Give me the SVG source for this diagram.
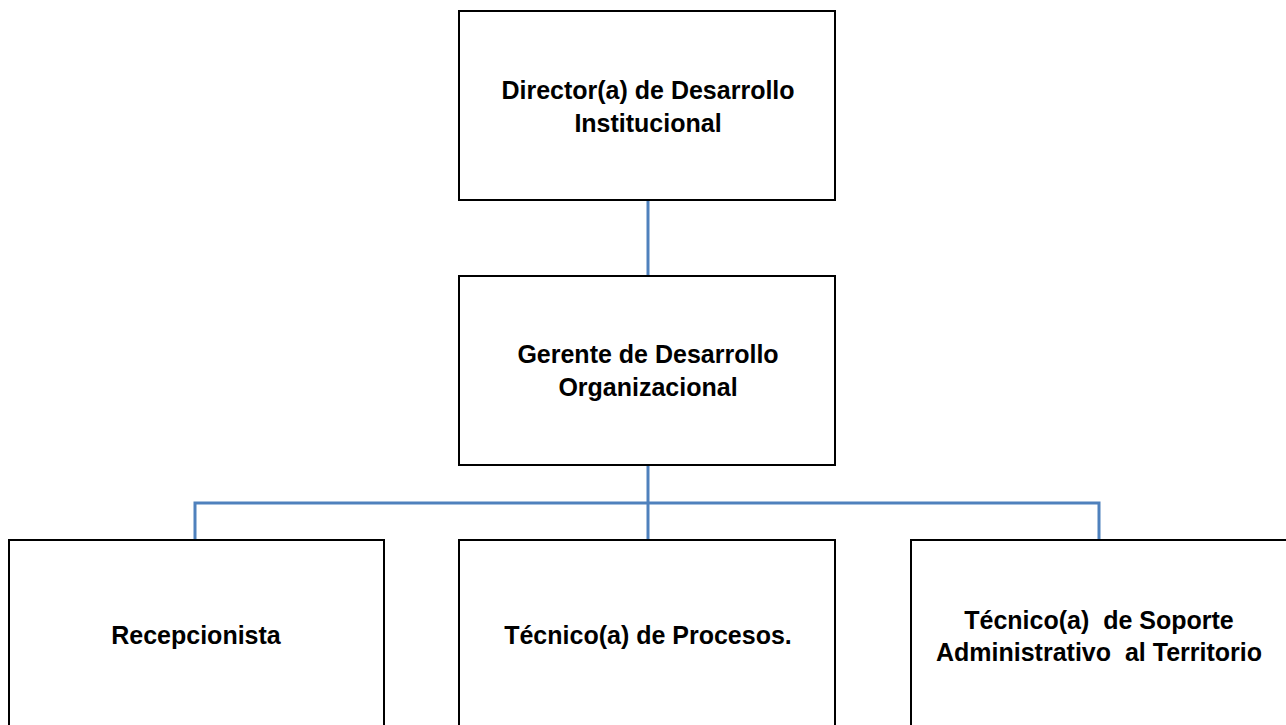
<svg xmlns="http://www.w3.org/2000/svg" width="1286" height="725" viewBox="0 0 1286 725">
<style>
.box{fill:#fff;stroke:#000;stroke-width:2}
.t{font-family:"Liberation Sans",Arial,sans-serif;font-weight:bold;font-size:25px;fill:#000;text-anchor:middle;white-space:pre}
.c{fill:none;stroke:#4f81bd;stroke-width:3}
</style>
<rect width="1286" height="725" fill="#fff"/>
<g id="connectors">
<line class="c" x1="648" y1="200" x2="648" y2="276"/>
<line class="c" x1="648" y1="465" x2="648" y2="540"/>
<polyline class="c" points="195,540 195,503 1099,503 1099,540"/>
</g>
<g id="director">
<rect class="box" x="459" y="11" width="376" height="189"/>
<text class="t" x="648" y="99">Director(a) de Desarrollo</text>
<text class="t" x="648" y="132">Institucional</text>
</g>
<g id="gerente">
<rect class="box" x="459" y="276" width="376" height="189"/>
<text class="t" x="648" y="363">Gerente de Desarrollo</text>
<text class="t" x="648" y="396">Organizacional</text>
</g>
<g id="recepcionista">
<rect class="box" x="9" y="540" width="375" height="200"/>
<text class="t" x="196" y="644">Recepcionista</text>
</g>
<g id="tecnico-procesos">
<rect class="box" x="459" y="540" width="376" height="200"/>
<text class="t" x="648" y="644">Técnico(a) de Procesos.</text>
</g>
<g id="tecnico-soporte">
<rect class="box" x="911" y="540" width="390" height="200"/>
<text class="t" x="1099" y="629">Técnico(a)  de Soporte</text>
<text class="t" x="1099" y="661">Administrativo  al Territorio</text>
</g>
</svg>
